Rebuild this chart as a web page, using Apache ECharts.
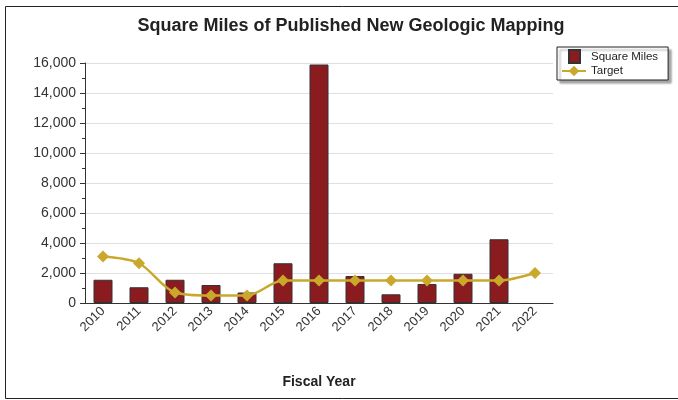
<!DOCTYPE html>
<html>
<head>
<meta charset="utf-8">
<script src="https://cdn.jsdelivr.net/npm/echarts@6/dist/echarts.min.js"></script>
<style>
  html, body { margin: 0; padding: 0; background: #fff; }
  #chart { width: 678px; height: 400px; }
</style>
</head>
<body>
<div id="chart"></div>
<script>
// data
const years = ['2010', '2011', '2012', '2013', '2014', '2015', '2016', '2017', '2018', '2019', '2020', '2021', '2022'];
const squareMiles = [1550, 1050, 1550, 1200, 700, 2650, 15900, 1800, 580, 1270, 1950, 4250, null];
const target = [3100, 2650, 700, 500, 500, 1500, 1500, 1500, 1500, 1500, 1500, 1500, 2000];

const chart = echarts.init(document.getElementById('chart'));
const font = 'Liberation Sans, Arial, sans-serif';

chart.setOption({
  animation: false,
  textStyle: { fontFamily: font },
  title: {
    text: 'Square Miles of Published New Geologic Mapping',
    left: 346,
    textAlign: 'center',
    top: 12,
    textStyle: { fontSize: 18, fontWeight: 'bold', color: '#222', fontFamily: font }
  },
  graphic: [
    {
      type: 'rect',
      shape: { x: 5.5, y: 6.5, width: 700, height: 392 },
      style: { fill: 'none', stroke: '#222', lineWidth: 1 },
      silent: true
    }
  ],
  legend: {
    orient: 'vertical',
    left: 557,
    top: 47,
    padding: [2, 10, 3, 4],
    itemGap: 1,
    itemWidth: 24,
    itemHeight: 13,
    backgroundColor: '#fff',
    borderColor: '#222',
    borderWidth: 1,
    shadowColor: 'rgba(0,0,0,0.35)',
    shadowOffsetX: 3,
    shadowOffsetY: 3,
    shadowBlur: 2,
    textStyle: { fontSize: 11.5, color: '#222', fontFamily: font },
    data: [
      { name: 'Square Miles', icon: 'path://M0,0M24,13M7,0H18V13H7Z' },
      { name: 'Target' }
    ]
  },
  grid: { left: 85, right: 125, top: 63, bottom: 97 },
  xAxis: {
    type: 'category',
    data: years,
    name: 'Fiscal Year',
    nameLocation: 'middle',
    nameGap: 72,
    nameTextStyle: { fontSize: 14, fontWeight: 'bold', color: '#222', fontFamily: font },
    axisLine: { lineStyle: { color: '#333', width: 1 } },
    axisTick: { inside: true, length: 4, lineStyle: { color: '#333' } },
    axisLabel: { rotate: 45, fontSize: 13, color: '#333', margin: 6, interval: 0 }
  },
  yAxis: {
    type: 'value',
    min: 0,
    max: 16000,
    interval: 2000,
    axisLine: { show: true, lineStyle: { color: '#333', width: 1 } },
    axisTick: { show: true, length: 5, lineStyle: { color: '#333' } },
    minorTick: { show: true, splitNumber: 2, length: 3, lineStyle: { color: '#333' } },
    splitLine: { lineStyle: { color: '#e0e0e0', width: 1 } },
    axisLabel: {
      fontSize: 14,
      color: '#333',
      margin: 9,
      formatter: v => v.toLocaleString('en-US')
    }
  },
  series: [
    {
      name: 'Square Miles',
      type: 'bar',
      data: squareMiles,
      barWidth: 19,
      itemStyle: { color: '#8a1c20', borderColor: '#333', borderWidth: 1 }
    },
    {
      name: 'Target',
      type: 'line',
      data: target,
      smooth: 0.3,
      symbol: 'diamond',
      symbolSize: 12,
      lineStyle: { color: '#c9a82c', width: 2.5 },
      itemStyle: { color: '#c9a82c' }
    }
  ]
});
</script>
</body>
</html>
